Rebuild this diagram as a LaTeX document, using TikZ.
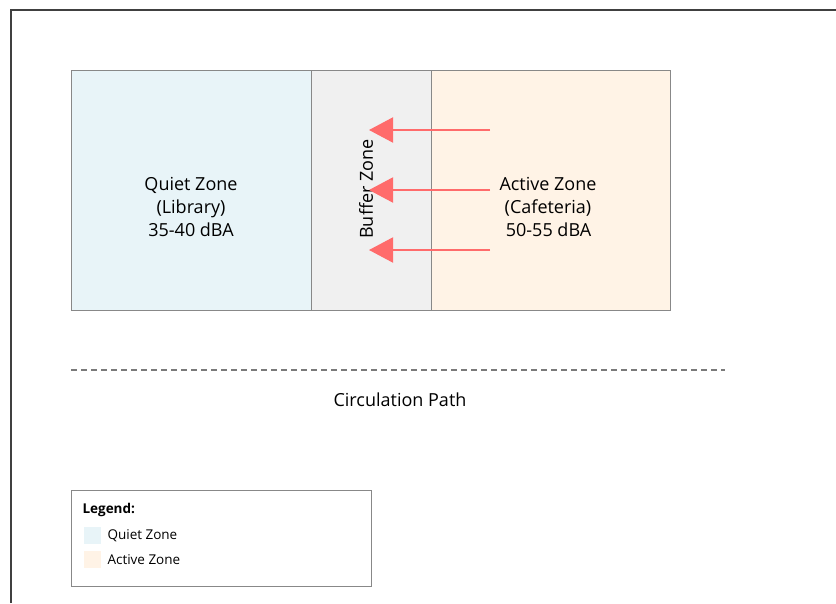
\documentclass[tikz,border=0pt]{standalone}
\usepackage{fontspec}
\setmainfont{Open Sans}
\usetikzlibrary{arrows.meta}
\definecolor{quietfill}{HTML}{E8F4F8}
\definecolor{bufferfill}{HTML}{F0F0F0}
\definecolor{activefill}{HTML}{FFF3E6}
\definecolor{edgegray}{HTML}{888888}
\definecolor{flowred}{HTML}{FF6B6B}
\tikzset{
  zone/.style={draw=edgegray,line width=1pt},
  label/.style={align=center,font=\fontsize{18}{23}\selectfont},
  flow/.style={draw=flowred,line width=2pt,-{Triangle[length=24pt,width=25pt]}},
  legtext/.style={anchor=west,font=\fontsize{13.5}{15}\selectfont}
}
\begin{document}
\begin{tikzpicture}[x=1pt,y=-1pt]
      \useasboundingbox (0,0) rectangle (836,603);
      \draw[line width=2pt,color=black!75] (11,603) -- (11,10) -- (836,10);
      % zones
      \filldraw[zone,fill=quietfill] (71,70) rectangle (311,310);
      \filldraw[zone,fill=bufferfill] (311,70) rectangle (431,310);
      \filldraw[zone,fill=activefill] (431,70) rectangle (670,310);
      \node[label] (quiet) at (191,207) {Quiet Zone\\(Library)\\35-40 dBA};
      \node[label] (active) at (548,207) {Active Zone\\(Cafeteria)\\\hspace*{1pt}50-55 dBA};
      \node[label,rotate=90] (buffer) at (366,189) {Buffer Zone};
      % noise arrows
      \foreach \y in {130,190,250} {
        \coordinate (src\y) at (490,\y);
        \coordinate (dst\y) at (369,\y);
        \draw[flow] (src\y) -- (dst\y);
      }
      % circulation
      \coordinate (pathL) at (71,370);
      \coordinate (pathR) at (725,370);
      \draw[edgegray!90!black,line width=1.5pt,dash pattern=on 6pt off 4pt] (pathL) -- (pathR);
      \node[label] (circ) at (400,400) {Circulation Path};
      % legend
      \draw[zone,fill=white] (71,490) rectangle (371,586);
      \node[legtext,font=\fontsize{13.5}{15}\selectfont\bfseries] (leg) at (79,510) {Legend:};
      \fill[quietfill] (84,527) rectangle (101,544);
      \fill[activefill] (84,551) rectangle (101,568);
      \node[legtext] (legq) at (104,536) {Quiet Zone};
      \node[legtext] (lega) at (104,560) {Active Zone};
    \end{tikzpicture}
\end{document}
